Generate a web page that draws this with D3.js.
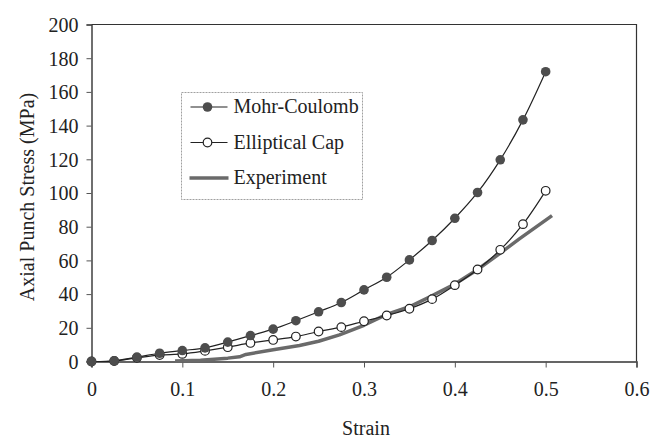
<!DOCTYPE html>
<html>
<head>
<meta charset="utf-8">
<script src="https://cdn.jsdelivr.net/npm/d3@7"></script>
<style>
  body { margin: 0; background: #fff; }
  text { font-family: "Liberation Serif", "Times New Roman", serif; fill: #222; }
</style>
</head>
<body>
<div id="chart"></div>
<script>
// values
let strain = [0, 0.025, 0.05, 0.075, 0.1, 0.125, 0.15, 0.175, 0.2, 0.225, 0.25,
  0.275, 0.3, 0.325, 0.35, 0.375, 0.4, 0.425, 0.45, 0.475, 0.5];
let mohrCoulomb = [0, 0.4, 2.6, 4.9, 6.5, 8.1, 11.5, 15.4, 19.2, 24.2, 29.5,
  35, 42.5, 50, 60.3, 71.8, 85, 100.3, 119.7, 143.4, 172];
let ellipticalCap = [0, 0.3, 2.2, 3.8, 4.5, 6.3, 8.5, 11, 12.8, 14.8, 17.8,
  20.4, 23.9, 27.3, 31.3, 37, 45.3, 54.6, 66.3, 81.5, 101.3];
let expStrain = [0.092, 0.12, 0.15, 0.163, 0.17, 0.2, 0.229, 0.25, 0.273, 0.3,
  0.325, 0.35, 0.372, 0.4, 0.4235, 0.449, 0.471, 0.507];
let expStress = [0.3, 0.8, 2, 2.8, 4.2, 7, 9.5, 12, 15.8, 21.5,
  28, 32.5, 38.2, 46, 54, 63.9, 72.8, 86.6];
let xTicks = [0, 0.1, 0.2, 0.3, 0.4, 0.5, 0.6];
let yTicks = [0, 20, 40, 60, 80, 100, 120, 140, 160, 180, 200];
let legendNames = ["Mohr-Coulomb", "Elliptical Cap", "Experiment"];

let svg = d3.select("#chart").append("svg")
  .attr("width", 651)
  .attr("height", 439);

let margin = {top: 24.5, right: 14.5, bottom: 77.5, left: 91.5};
let w = 651 - margin.left - margin.right;
let h = 439 - margin.top - margin.bottom;

let g = svg.append("g")
  .attr("transform", "translate(" + margin.left + "," + margin.top + ")");

let x = d3.scaleLinear().domain([0, 0.6]).range([0, w]);
let y = d3.scaleLinear().domain([0, 200]).range([h, 0]);

// frame (top + right)
g.append("path")
  .attr("d", "M0,0H" + w + "V" + h)
  .attr("fill", "none")
  .attr("stroke", "#333")
  .attr("stroke-width", 1.2);

let xAxis = d3.axisBottom(x).tickValues(xTicks).tickSize(6).tickPadding(14)
  .tickFormat(d => d === 0 ? "0" : d3.format(".1f")(d));
let yAxis = d3.axisLeft(y).tickValues(yTicks).tickSize(5).tickPadding(8)
  .tickFormat(d3.format("d"));

let gx = g.append("g")
  .attr("transform", "translate(0," + h + ")")
  .call(xAxis);
let gy = g.append("g").call(yAxis);

[gx, gy].forEach(function(a) {
  a.select(".domain").attr("stroke", "#333").attr("stroke-width", 1.4);
  a.selectAll(".tick line").attr("stroke", "#555");
  a.selectAll(".tick text")
    .style("font-family", "Liberation Serif, serif")
    .style("font-size", "20px")
    .attr("fill", "#222");
});
gy.selectAll(".tick text").attr("dy", "0.34em");

// axis titles
svg.append("text")
  .attr("x", margin.left + x(0.3) + 2)
  .attr("y", 435)
  .attr("text-anchor", "middle")
  .style("font-size", "20px")
  .text("Strain");

svg.append("text")
  .attr("transform", "translate(34," + (margin.top + h / 2 + 4) + ") rotate(-90)")
  .attr("text-anchor", "middle")
  .style("font-size", "20px")
  .text("Axial Punch Stress (MPa)");

let smooth = d3.line()
  .x(d => x(d[0]))
  .y(d => y(d[1]))
  .curve(d3.curveCatmullRom);

let mcData = strain.map((s, i) => [s, mohrCoulomb[i]]);
let ecData = strain.map((s, i) => [s, ellipticalCap[i]]);
let exData = expStrain.map((s, i) => [s, expStress[i]]);

// experiment: thick grey line
g.append("path")
  .datum(exData)
  .attr("d", d3.line().x(d => x(d[0])).y(d => y(d[1])))
  .attr("fill", "none")
  .attr("stroke", "#6a6a6a")
  .attr("stroke-width", 3.5)
  .attr("stroke-linejoin", "round");

// elliptical cap
g.append("path")
  .datum(ecData)
  .attr("d", smooth)
  .attr("fill", "none")
  .attr("stroke", "#222")
  .attr("stroke-width", 1.2);

g.selectAll(".ec")
  .data(ecData)
  .enter().append("circle")
  .attr("class", "ec")
  .attr("cx", d => x(d[0]))
  .attr("cy", d => y(d[1]))
  .attr("r", 4.3)
  .attr("fill", "#fff")
  .attr("stroke", "#222")
  .attr("stroke-width", 1.2);

// mohr-coulomb
g.append("path")
  .datum(mcData)
  .attr("d", smooth)
  .attr("fill", "none")
  .attr("stroke", "#222")
  .attr("stroke-width", 1.2);

g.selectAll(".mc")
  .data(mcData)
  .enter().append("circle")
  .attr("class", "mc")
  .attr("cx", d => x(d[0]))
  .attr("cy", d => y(d[1]))
  .attr("r", 4.8)
  .attr("fill", "#4d4d4d");

// legend
let leg = svg.append("g").attr("transform", "translate(181.5,92.5)");
leg.append("rect")
  .attr("width", 181)
  .attr("height", 107)
  .attr("fill", "#fff")
  .attr("stroke", "#888")
  .attr("stroke-width", 0.8)
  .attr("stroke-dasharray", "2,1");

legendNames.forEach(function(name, i) {
  let cy = 14.5 + i * 35.5;
  let row = leg.append("g").attr("transform", "translate(0," + cy + ")");
  if (i < 2) {
    row.append("line")
      .attr("x1", 9).attr("x2", 46)
      .attr("stroke", "#222").attr("stroke-width", 1.2);
    row.append("circle")
      .attr("cx", 26)
      .attr("r", i === 0 ? 4.8 : 4.3)
      .attr("fill", i === 0 ? "#4d4d4d" : "#fff")
      .attr("stroke", i === 0 ? "none" : "#222")
      .attr("stroke-width", 1.2);
  } else {
    row.append("line")
      .attr("x1", 8).attr("x2", 47)
      .attr("stroke", "#6a6a6a").attr("stroke-width", 3.5);
  }
  row.append("text")
    .attr("x", 52)
    .attr("y", 6)
    .style("font-size", "20px")
    .text(name);
});
</script>
</body>
</html>
